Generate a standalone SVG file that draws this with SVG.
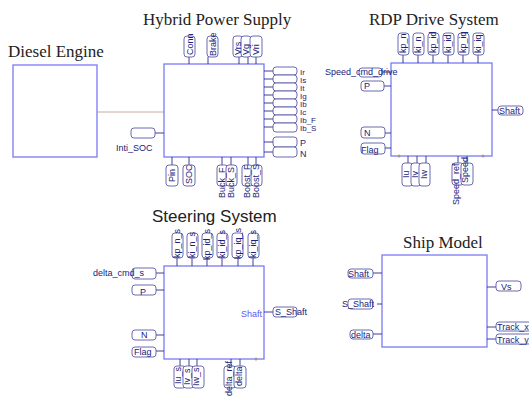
<svg xmlns="http://www.w3.org/2000/svg" width="529" height="396" viewBox="0 0 529 396">
<style>
.box{fill:#fff;stroke:#7a7af5;stroke-width:1.3}
.pill{fill:#fff;stroke:#5a5aa8;stroke-width:0.9}
.stub{stroke:#2a2a8a;stroke-width:0.9}
.t{font-family:"Liberation Sans",Arial,sans-serif;font-size:9px;fill:#22227a}
.tr{font-family:"Liberation Sans",Arial,sans-serif;font-size:8px;fill:#22227a}
.ts{font-family:"Liberation Serif","Times New Roman",serif;font-size:17px;fill:#222}
.tt{font-family:"Liberation Sans",Arial,sans-serif;font-size:17px;fill:#222}
.dot{fill:#999}
</style>
<rect width="529" height="396" fill="#fff"/>

<g id="connectors">
<line x1="97" y1="112" x2="164" y2="112" stroke="#c9aaa2" stroke-width="1"/>
</g>

<g id="diesel">
<text class="ts" x="8" y="57">Diesel Engine</text>
<rect class="box" x="13" y="65" width="84" height="92"/>
</g>

<g id="hybrid">
<text class="ts" x="143" y="25">Hybrid Power Supply</text>
<rect class="box" x="164" y="64" width="100" height="93"/>
<!-- top ports -->
<line class="stub" x1="189" y1="57" x2="189" y2="64"/>
<line class="stub" x1="208" y1="57" x2="208" y2="64"/>
<line class="stub" x1="239" y1="57" x2="239" y2="64"/>
<line class="stub" x1="248" y1="57" x2="248" y2="64"/>
<line class="stub" x1="256" y1="57" x2="256" y2="64"/>
<rect class="pill" x="184" y="36" width="11" height="21" rx="3"/>
<rect class="pill" x="207" y="36" width="11" height="21" rx="3"/>
<rect class="pill" x="233" y="36" width="10" height="21" rx="3"/>
<rect class="pill" x="241" y="36" width="10" height="21" rx="3"/>
<rect class="pill" x="250" y="36" width="12" height="21" rx="3"/>
<text class="t" transform="translate(193,55) rotate(-90)">Conn</text>
<text class="t" transform="translate(216,56) rotate(-90)">Brake</text>
<text class="t" transform="translate(241,55) rotate(-90)">Vrs</text>
<text class="t" transform="translate(249,55) rotate(-90)">Vg</text>
<text class="t" transform="translate(259,55) rotate(-90)">Vri</text>
<!-- right ports -->
<g class="stub">
<line x1="264" y1="71" x2="273" y2="71"/>
<line x1="264" y1="79" x2="273" y2="79"/>
<line x1="264" y1="87" x2="273" y2="87"/>
<line x1="264" y1="95" x2="273" y2="95"/>
<line x1="264" y1="103" x2="273" y2="103"/>
<line x1="264" y1="111" x2="273" y2="111"/>
<line x1="264" y1="119" x2="273" y2="119"/>
<line x1="264" y1="127" x2="273" y2="127"/>
<line x1="264" y1="142" x2="273" y2="142"/>
<line x1="264" y1="152" x2="273" y2="152"/>
</g>
<rect class="pill" x="273" y="67" width="24" height="8" rx="3"/>
<rect class="pill" x="273" y="75" width="24" height="8" rx="3"/>
<rect class="pill" x="273" y="83" width="24" height="8" rx="3"/>
<rect class="pill" x="273" y="91" width="24" height="8" rx="3"/>
<rect class="pill" x="273" y="99" width="24" height="8" rx="3"/>
<rect class="pill" x="273" y="107" width="24" height="8" rx="3"/>
<rect class="pill" x="273" y="115" width="24" height="8" rx="3"/>
<rect class="pill" x="273" y="123" width="24" height="9" rx="3"/>
<rect class="pill" x="273" y="137" width="24" height="10" rx="3"/>
<rect class="pill" x="273" y="147" width="24" height="10" rx="3"/>
<text class="tr" x="300" y="75">Ir</text>
<text class="tr" x="300" y="83">Is</text>
<text class="tr" x="300" y="91">It</text>
<text class="tr" x="300" y="99">Ig</text>
<text class="tr" x="300" y="107">Ib</text>
<text class="tr" x="300" y="115">Ic</text>
<text class="tr" x="300" y="123">Ib_F</text>
<text class="tr" x="300" y="131">Ib_S</text>
<text class="t" x="300" y="146">P</text>
<text class="t" x="300" y="157">N</text>
<!-- left port -->
<line class="stub" x1="155" y1="133" x2="164" y2="133"/>
<rect class="pill" x="131" y="128" width="24" height="10" rx="3"/>
<text class="t" x="116" y="151">Inti_SOC</text>
<!-- bottom ports -->
<g class="stub">
<line x1="172" y1="157" x2="172" y2="165"/>
<line x1="189" y1="157" x2="189" y2="165"/>
<line x1="222" y1="157" x2="222" y2="165"/>
<line x1="231" y1="157" x2="231" y2="165"/>
<line x1="248" y1="157" x2="248" y2="165"/>
<line x1="256" y1="157" x2="256" y2="165"/>
</g>
<rect class="pill" x="166" y="165" width="12" height="21" rx="3"/>
<rect class="pill" x="183" y="165" width="12" height="21" rx="3"/>
<rect class="pill" x="217" y="165" width="11" height="21" rx="3"/>
<rect class="pill" x="226" y="165" width="11" height="21" rx="3"/>
<rect class="pill" x="242" y="165" width="11" height="21" rx="3"/>
<rect class="pill" x="251" y="165" width="11" height="21" rx="3"/>
<text class="t" transform="translate(175,182) rotate(-90)">Pin</text>
<text class="t" transform="translate(192,184) rotate(-90)">SOC</text>
<text class="t" transform="translate(225,198) rotate(-90)">Buck_F</text>
<text class="t" transform="translate(234,198) rotate(-90)">Buck_S</text>
<text class="t" transform="translate(250,198) rotate(-90)">Boost_F</text>
<text class="t" transform="translate(259,198) rotate(-90)">Boost_S</text>
</g>

<g id="rdp">
<text class="ts" x="369" y="25">RDP Drive System</text>
<rect class="box" x="391" y="63" width="101" height="93"/>
<g class="stub">
<line x1="403" y1="55" x2="403" y2="63"/>
<line x1="418" y1="55" x2="418" y2="63"/>
<line x1="433" y1="55" x2="433" y2="63"/>
<line x1="448" y1="55" x2="448" y2="63"/>
<line x1="463" y1="55" x2="463" y2="63"/>
<line x1="478" y1="55" x2="478" y2="63"/>
</g>
<rect class="pill" x="398" y="33" width="11" height="22" rx="3"/>
<rect class="pill" x="413" y="33" width="11" height="22" rx="3"/>
<rect class="pill" x="428" y="33" width="11" height="22" rx="3"/>
<rect class="pill" x="443" y="33" width="11" height="22" rx="3"/>
<rect class="pill" x="458" y="33" width="11" height="22" rx="3"/>
<rect class="pill" x="473" y="33" width="11" height="22" rx="3"/>
<text class="t" transform="translate(406,53) rotate(-90)">kp_n</text>
<text class="t" transform="translate(421,53) rotate(-90)">ki_n</text>
<text class="t" transform="translate(436,53) rotate(-90)">kp_id</text>
<text class="t" transform="translate(451,53) rotate(-90)">ki_id</text>
<text class="t" transform="translate(466,53) rotate(-90)">kp_iq</text>
<text class="t" transform="translate(481,53) rotate(-90)">ki_iq</text>
<!-- left -->
<g class="stub">
<line x1="382" y1="72" x2="391" y2="72"/>
<line x1="384" y1="86" x2="391" y2="86"/>
<line x1="385" y1="133" x2="391" y2="133"/>
<line x1="385" y1="148" x2="391" y2="148"/>
</g>
<rect class="pill" x="359" y="68" width="23" height="9" rx="3"/>
<text class="t" x="325" y="75">Speed_cmd_drive</text>
<rect class="pill" x="361" y="81" width="23" height="10" rx="3"/>
<text class="t" x="364" y="89">P</text>
<rect class="pill" x="361" y="127" width="24" height="11" rx="3"/>
<text class="t" x="364" y="136">N</text>
<rect class="pill" x="361" y="143" width="24" height="11" rx="3"/>
<text class="t" x="361" y="153">Flag</text>
<!-- right -->
<line class="stub" x1="492" y1="110" x2="498" y2="110"/>
<rect class="pill" x="498" y="106" width="25" height="9" rx="3"/>
<text class="t" x="499" y="114">Shaft</text>
<!-- bottom -->
<circle class="dot" cx="399" cy="156" r="1.5"/>
<circle class="dot" cx="483" cy="156" r="1.5"/>
<g class="stub">
<line x1="408" y1="156" x2="408" y2="163"/>
<line x1="417" y1="156" x2="417" y2="163"/>
<line x1="426" y1="156" x2="426" y2="163"/>
<line x1="458" y1="156" x2="458" y2="163"/>
<line x1="467" y1="156" x2="467" y2="163"/>
</g>
<rect class="pill" x="402" y="163" width="11" height="23" rx="3"/>
<rect class="pill" x="411" y="163" width="10" height="23" rx="3"/>
<rect class="pill" x="419" y="163" width="11" height="23" rx="3"/>
<rect class="pill" x="452" y="163" width="12" height="22" rx="3"/>
<rect class="pill" x="461" y="163" width="12" height="22" rx="3"/>
<text class="t" transform="translate(409,178) rotate(-90)">Iu</text>
<text class="t" transform="translate(418,178) rotate(-90)">Iv</text>
<text class="t" transform="translate(427,179) rotate(-90)">Iw</text>
<text class="t" transform="translate(459,205) rotate(-90)">Speed_ref</text>
<text class="t" transform="translate(468,183) rotate(-90)">Speed</text>
</g>

<g id="steering">
<text class="tt" x="152" y="222">Steering System</text>
<rect class="box" x="164" y="266" width="100" height="93"/>
<g class="stub">
<line x1="177" y1="258" x2="177" y2="266"/>
<line x1="192" y1="258" x2="192" y2="266"/>
<line x1="207" y1="258" x2="207" y2="266"/>
<line x1="222" y1="258" x2="222" y2="266"/>
<line x1="238" y1="258" x2="238" y2="266"/>
<line x1="253" y1="258" x2="253" y2="266"/>
</g>
<rect class="pill" x="172" y="233" width="11" height="25" rx="3"/>
<rect class="pill" x="187" y="233" width="11" height="25" rx="3"/>
<rect class="pill" x="202" y="233" width="11" height="25" rx="3"/>
<rect class="pill" x="217" y="233" width="11" height="25" rx="3"/>
<rect class="pill" x="232" y="233" width="11" height="25" rx="3"/>
<rect class="pill" x="248" y="233" width="11" height="25" rx="3"/>
<text class="t" transform="translate(180,258) rotate(-90)">kp_n_s</text>
<text class="t" transform="translate(195,258) rotate(-90)">ki_n_s</text>
<text class="t" transform="translate(210,260) rotate(-90)">kp_id_s</text>
<text class="t" transform="translate(225,258) rotate(-90)">ki_id_s</text>
<text class="t" transform="translate(241,259) rotate(-90)">kp_iq_s</text>
<text class="t" transform="translate(256,258) rotate(-90)">ki_iq_s</text>
<!-- left -->
<g class="stub">
<line x1="156" y1="273" x2="164" y2="273"/>
<line x1="156" y1="290" x2="164" y2="290"/>
<line x1="156" y1="335" x2="164" y2="335"/>
<line x1="156" y1="351" x2="164" y2="351"/>
</g>
<rect class="pill" x="132" y="268" width="24" height="11" rx="3"/>
<text class="t" x="93" y="276">delta_cmd_s</text>
<rect class="pill" x="132" y="285" width="24" height="10" rx="3"/>
<text class="t" x="140" y="295">P</text>
<rect class="pill" x="132" y="330" width="24" height="10" rx="3"/>
<text class="t" x="141" y="338">N</text>
<rect class="pill" x="132" y="347" width="24" height="10" rx="3"/>
<text class="t" x="134" y="355">Flag</text>
<!-- right -->
<text class="t" x="241" y="317" style="fill:#5a5af0">Shaft</text>
<line class="stub" x1="264" y1="312" x2="273" y2="312"/>
<rect class="pill" x="273" y="307" width="24" height="10" rx="3"/>
<text class="t" x="275" y="315">S_Shaft</text>
<!-- bottom -->
<circle class="dot" cx="256" cy="359" r="1.5"/>
<g class="stub">
<line x1="180" y1="359" x2="180" y2="366"/>
<line x1="189" y1="359" x2="189" y2="366"/>
<line x1="197" y1="359" x2="197" y2="366"/>
<line x1="231" y1="359" x2="231" y2="366"/>
<line x1="240" y1="359" x2="240" y2="366"/>
</g>
<rect class="pill" x="174" y="366" width="12" height="22" rx="3"/>
<rect class="pill" x="183" y="366" width="11" height="22" rx="3"/>
<rect class="pill" x="192" y="366" width="12" height="22" rx="3"/>
<rect class="pill" x="224" y="366" width="12" height="22" rx="3"/>
<rect class="pill" x="234" y="366" width="12" height="22" rx="3"/>
<text class="t" transform="translate(181,384) rotate(-90)">Iu_s</text>
<text class="t" transform="translate(190,385) rotate(-90)">Iv_s</text>
<text class="t" transform="translate(199,386) rotate(-90)">Iw_s</text>
<text class="t" transform="translate(232,396) rotate(-90)">delta_ref</text>
<text class="t" transform="translate(242,386) rotate(-90)">delta</text>
</g>

<g id="ship">
<text class="ts" x="403" y="248">Ship Model</text>
<rect class="box" x="382" y="255" width="105" height="92"/>
<g class="stub">
<line x1="373" y1="273" x2="382" y2="273"/>
<line x1="377" y1="304" x2="382" y2="304"/>
<line x1="373" y1="334" x2="382" y2="334"/>
<line x1="487" y1="287" x2="496" y2="287"/>
<line x1="487" y1="327" x2="496" y2="327"/>
<line x1="487" y1="339" x2="496" y2="339"/>
</g>
<rect class="pill" x="348" y="269" width="25" height="9" rx="3"/>
<text class="t" x="348" y="277">Shaft</text>
<rect class="pill" x="348" y="299" width="25" height="10" rx="3"/>
<text class="t" x="342" y="307">S_Shaft</text>
<rect class="pill" x="350" y="330" width="23" height="9" rx="3"/>
<text class="t" x="351" y="338">delta</text>
<rect class="pill" x="496" y="281" width="25" height="10" rx="3"/>
<text class="t" x="501" y="290">Vs</text>
<rect class="pill" x="496" y="322" width="40" height="9" rx="3"/>
<text class="t" x="497" y="330">Track_x</text>
<rect class="pill" x="496" y="334" width="40" height="10" rx="3"/>
<text class="t" x="497" y="343">Track_y</text>
</g>
</svg>
